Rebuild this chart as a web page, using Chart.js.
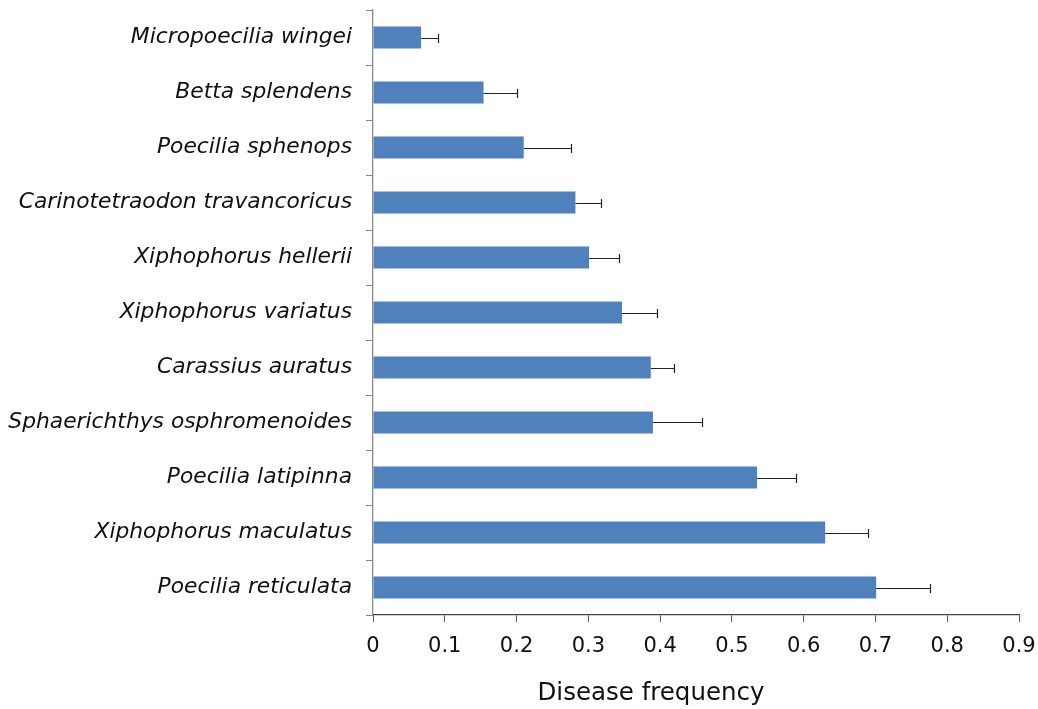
<!DOCTYPE html>
<html>
<head>
<meta charset="utf-8">
<script src="https://cdn.jsdelivr.net/npm/chart.js@4.4.0/dist/chart.umd.min.js"></script>
<style>
  html, body { margin: 0; padding: 0; background: #fff; }
  #wrap { width: 1038px; height: 709px; }
</style>
</head>
<body>
<div id="wrap"><canvas id="chart"></canvas></div>
<script>
const species = [
    "Micropoecilia wingei",
    "Betta splendens",
    "Poecilia sphenops",
    "Carinotetraodon travancoricus",
    "Xiphophorus hellerii",
    "Xiphophorus variatus",
    "Carassius auratus",
    "Sphaerichthys osphromenoides",
    "Poecilia latipinna",
    "Xiphophorus maculatus",
    "Poecilia reticulata"
];
const frequency = [0.067, 0.154, 0.210, 0.282, 0.301, 0.347, 0.387, 0.390, 0.535, 0.630, 0.701];
const errorTop = [0.090, 0.201, 0.276, 0.317, 0.343, 0.395, 0.420, 0.459, 0.590, 0.690, 0.776];
const xTicks = [0, 0.1, 0.2, 0.3, 0.4, 0.5, 0.6, 0.7, 0.8, 0.9];
const xTitle = "Disease frequency";

// error bars drawn on top of the bars
const errorBars = {
    id: "errorBars",
    afterDatasetsDraw(chart) {
        const ctx = chart.ctx;
        const x = chart.scales.x;
        const y = chart.scales.y;
        ctx.save();
        ctx.strokeStyle = "#222";
        ctx.lineWidth = 1.2;
        frequency.forEach((v, i) => {
            const yp = Math.round(y.getPixelForValue(i)) + 0.5;
            const x0 = x.getPixelForValue(v);
            const x1 = Math.round(x.getPixelForValue(errorTop[i])) + 0.5;
            ctx.beginPath();
            ctx.moveTo(x0, yp);
            ctx.lineTo(x1, yp);
            ctx.moveTo(x1, yp - 4.5);
            ctx.lineTo(x1, yp + 4.5);
            ctx.stroke();
        });
        ctx.restore();
    }
};

// axis title sits a bit left of the axis centre in the original
const axisTitle = {
    id: "axisTitle",
    afterDraw(chart) {
        const ctx = chart.ctx;
        const area = chart.chartArea;
        ctx.save();
        ctx.fillStyle = "#111";
        ctx.font = "24.5px 'DejaVu Sans'";
        ctx.textAlign = "center";
        ctx.textBaseline = "middle";
        ctx.fillText(xTitle, area.left + 278, area.bottom + 79);
        ctx.restore();
    }
};

new Chart(document.getElementById("chart"), {
    type: "bar",
    data: {
        labels: species,
        datasets: [{
            data: frequency,
            backgroundColor: "#4f81bd",
            borderWidth: 0,
            barPercentage: 0.4,
            categoryPercentage: 1.0
        }]
    },
    options: {
        indexAxis: "y",
        responsive: true,
        maintainAspectRatio: false,
        animation: false,
        layout: { padding: { top: 10, right: 19, left: 0, bottom: 0 } },
        plugins: {
            legend: { display: false },
            tooltip: { enabled: false }
        },
        scales: {
            x: {
                min: 0,
                max: 0.9,
                afterBuildTicks(scale) {
                    scale.ticks = xTicks.map(v => ({ value: v }));
                },
                afterFit(scale) {
                    scale.height = 94;
                    scale.paddingLeft = 0;
                    scale.paddingRight = 0;
                },
                border: { color: "#444", width: 1.3 },
                grid: { drawOnChartArea: false, tickLength: 7, color: "#555" },
                ticks: {
                    color: "#111",
                    font: { family: "DejaVu Sans", size: 21 },
                    padding: 12,
                    maxRotation: 0
                }
            },
            y: {
                afterFit(scale) {
                    scale.width = 373;
                    scale.paddingTop = 0;
                    scale.paddingBottom = 0;
                },
                border: { color: "#888", width: 1.3 },
                grid: { offset: true, drawOnChartArea: false, tickLength: 7, color: "#888" },
                ticks: {
                    color: "#111",
                    font: { family: "DejaVu Sans", size: 21.8, style: "italic" },
                    padding: 14,
                    autoSkip: false
                }
            }
        }
    },
    plugins: [errorBars, axisTitle]
});
</script>
</body>
</html>
